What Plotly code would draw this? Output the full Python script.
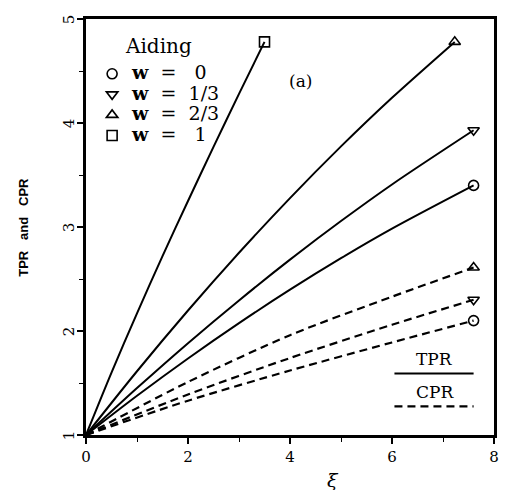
import plotly.graph_objects as go

# ---- data ----
w_labels = ["w  =  \u00a00", "w  =  1/3", "w  =  2/3", "w  =  \u00a01"]
symbols = ["circle-open", "triangle-down-open", "triangle-up-open", "square-open"]

tpr_x = {
    "0":   [0, 1, 2, 3, 4, 5, 6, 7.6],
    "1/3": [0, 1, 2, 3, 4, 5, 6, 7.6],
    "2/3": [0, 1, 2, 3, 4, 5, 6, 7.23],
    "1":   [0, 0.5, 1, 1.5, 2, 2.5, 3, 3.5],
}
tpr_y = {
    "0":   [1, 1.377, 1.736, 2.076, 2.397, 2.700, 2.984, 3.40],
    "1/3": [1, 1.451, 1.883, 2.294, 2.686, 3.057, 3.409, 3.93],
    "2/3": [1, 1.613, 2.197, 2.752, 3.278, 3.775, 4.243, 4.78],
    "1":   [1, 1.60, 2.17, 2.72, 3.25, 3.77, 4.28, 4.78],
}
cpr_x = {
    "0":   [0, 2, 4, 6, 7.6],
    "1/3": [0, 2, 4, 6, 7.6],
    "2/3": [0, 2, 4, 6, 7.6],
}
cpr_y = {
    "0":   [1, 1.33, 1.62, 1.89, 2.10],
    "1/3": [1, 1.39, 1.74, 2.06, 2.30],
    "2/3": [1, 1.51, 1.96, 2.33, 2.61],
}
keys = ["0", "1/3", "2/3", "1"]

x_ticks = [0, 2, 4, 6, 8]
y_ticks = [1, 2, 3, 4, 5]

fig = go.Figure()
BLACK = "black"
NB = "\u00a0"

for k in keys:
    fig.add_trace(go.Scatter(x=tpr_x[k], y=tpr_y[k], mode="lines",
                             line=dict(color=BLACK, width=2, shape="spline", smoothing=0.8),
                             showlegend=False, hoverinfo="skip"))
    if k in cpr_x:
        fig.add_trace(go.Scatter(x=cpr_x[k], y=cpr_y[k], mode="lines",
                                 line=dict(color=BLACK, width=2.2, dash="8px,5px", shape="spline", smoothing=0.8),
                                 showlegend=False, hoverinfo="skip"))

for i, k in enumerate(keys):
    label = w_labels[i].replace("  ", NB + NB).replace("w", "<b>w</b>", 1)
    fig.add_trace(go.Scatter(x=[tpr_x[k][-1]], y=[tpr_y[k][-1]], mode="markers",
                             marker=dict(symbol=symbols[i], size=10, color=BLACK, line=dict(width=1.6, color=BLACK)),
                             name='<span style="font-size:19px">' + label + '</span>', showlegend=True))
    if k in cpr_x:
        fig.add_trace(go.Scatter(x=[cpr_x[k][-1]], y=[cpr_y[k][-1]], mode="markers",
                                 marker=dict(symbol=symbols[i], size=10, color=BLACK, line=dict(width=1.6, color=BLACK)),
                                 showlegend=False))

axis_common = dict(showline=True, linewidth=2.5, linecolor=BLACK, mirror=True, ticks="outside",
                   tickwidth=1.5, ticklen=6, tickcolor=BLACK, showgrid=False, zeroline=False,
                   tickfont=dict(family="DejaVu Serif", size=15, color=BLACK))

fig.update_xaxes(range=[0, 8], tickvals=x_ticks, ticktext=[str(v) for v in x_ticks],
                 minor=dict(dtick=1, tick0=0, ticks="outside", ticklen=4, tickwidth=1.2, tickcolor=BLACK),
                 **axis_common)
fig.update_yaxes(range=[1, 5], tickvals=y_ticks, showticklabels=False,
                 minor=dict(dtick=0.5, tick0=0, ticks="outside", ticklen=4, tickwidth=1.2, tickcolor=BLACK),
                 **axis_common)

# rotated y tick labels
for v in y_ticks:
    fig.add_annotation(text=str(v), xref="paper", yref="y", x=-0.041, y=v, textangle=-90,
                       showarrow=False, xanchor="center", yanchor="middle",
                       font=dict(family="DejaVu Serif", size=15, color=BLACK))

fig.add_annotation(text="Aiding", xref="paper", yref="paper", x=0.177, y=0.935, showarrow=False,
                   xanchor="center", yanchor="middle",
                   font=dict(family="DejaVu Serif", size=20, color=BLACK))
fig.add_annotation(text="<i>\u03be</i>", xref="paper", yref="paper", x=0.605, y=-0.108, showarrow=False,
                   xanchor="center", yanchor="middle",
                   font=dict(family="DejaVu Serif", size=19, color=BLACK))
fig.add_annotation(text="<b>TPR" + NB * 3 + "and" + NB * 3 + "CPR</b>", xref="paper", yref="paper",
                   x=-0.155, y=0.5, textangle=-90, showarrow=False, xanchor="center", yanchor="middle",
                   font=dict(family="Liberation Sans", size=13, color=BLACK))
fig.add_annotation(text="(a)", xref="paper", yref="paper", x=0.525, y=0.85, showarrow=False,
                   xanchor="center", yanchor="middle",
                   font=dict(family="DejaVu Serif", size=17, color=BLACK))
fig.add_annotation(text="TPR", xref="paper", yref="paper", x=0.855, y=0.182, showarrow=False,
                   xanchor="center", yanchor="middle",
                   font=dict(family="DejaVu Serif", size=17, color=BLACK))
fig.add_annotation(text="CPR", xref="paper", yref="paper", x=0.855, y=0.103, showarrow=False,
                   xanchor="center", yanchor="middle",
                   font=dict(family="DejaVu Serif", size=17, color=BLACK))
fig.add_shape(type="line", xref="paper", yref="paper", x0=0.756, x1=0.95, y0=0.148, y1=0.148,
              line=dict(color=BLACK, width=2))
fig.add_shape(type="line", xref="paper", yref="paper", x0=0.756, x1=0.95, y0=0.069, y1=0.069,
              line=dict(color=BLACK, width=2.2, dash="8px,5px"))

fig.update_layout(
    width=499, height=482,
    margin=dict(l=78, r=8, t=9, b=55),
    paper_bgcolor="white", plot_bgcolor="white",
    legend=dict(x=0.015, y=0.905, xanchor="left", yanchor="top", bgcolor="rgba(0,0,0,0)",
                font=dict(family="DejaVu Serif", size=13.5, color=BLACK),
                tracegroupgap=0, itemclick=False),
)

fig.write_html("out.html")
